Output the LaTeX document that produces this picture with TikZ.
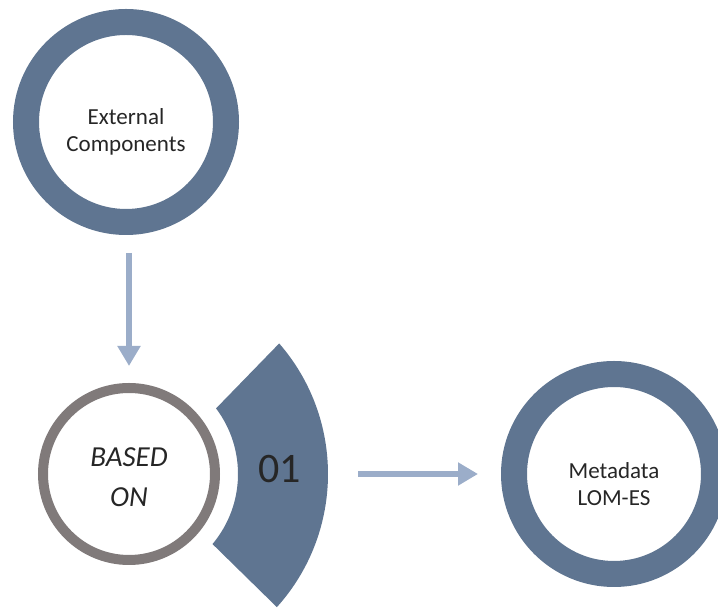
\documentclass[tikz,border=0pt]{standalone}
\usepackage{fontspec}
\setmainfont{Carlito}
\usetikzlibrary{calc,positioning,arrows.meta}
\definecolor{ringblue}{RGB}{95,117,145}
\definecolor{arrowblue}{RGB}{155,173,201}
\definecolor{ringgray}{RGB}{128,122,122}
\tikzset{
    ring/.style={circle, draw=ringblue, line width=26pt, minimum size=200pt, inner sep=0pt},
    basering/.style={circle, draw=ringgray, line width=10pt, minimum size=172pt, inner sep=0pt},
    ringtext/.style={align=center, text=black!85, font=\fontsize{23}{27}\selectfont},
    line/.style={-{Triangle[length=20pt,width=22pt]}, line width=6pt, draw=arrowblue},
}

\begin{document}
\begin{tikzpicture}[x=1pt,y=1pt]
    \useasboundingbox (0,0) rectangle (718,612);

    \node[ring] (ext) at (126,490) {};
    \node[basering] (based) at (129,138) {};
    \node[ring] (meta) at (614,138) {};

    % block arc round the second ring
    \fill[ringblue] ($(based.center)+(41:199pt)$) arc[start angle=41, end angle=-42, radius=199pt]
        -- ($(based.center)+(-40:109pt)$) arc[start angle=-40, end angle=37, radius=109pt] -- cycle;
    \coordinate (fanedge) at ($(based.center)+(199pt,0)$);

    \node[ringtext] (exttext) at ([yshift=-10pt]ext.center) {External\\Components};
    \node[ringtext] (metatext) at ([yshift=-10.5pt]meta.center) {Metadata\\LOM-ES};
    \node[ringtext, font=\fontsize{29}{40}\selectfont\itshape] (basedtext) at ([yshift=-3.5pt]based.center) {BASED\\ON};
    \node[text=black!85, font=\fontsize{42}{48}\selectfont] (num) at (279.5,142.5) {01};

    \draw[line, shorten <=18pt, shorten >=17pt] (ext.south -| based.north) -- (based.north);
    \draw[line, shorten <=30pt, shorten >=23pt] (fanedge) -- (meta.west);
\end{tikzpicture}
\end{document}
